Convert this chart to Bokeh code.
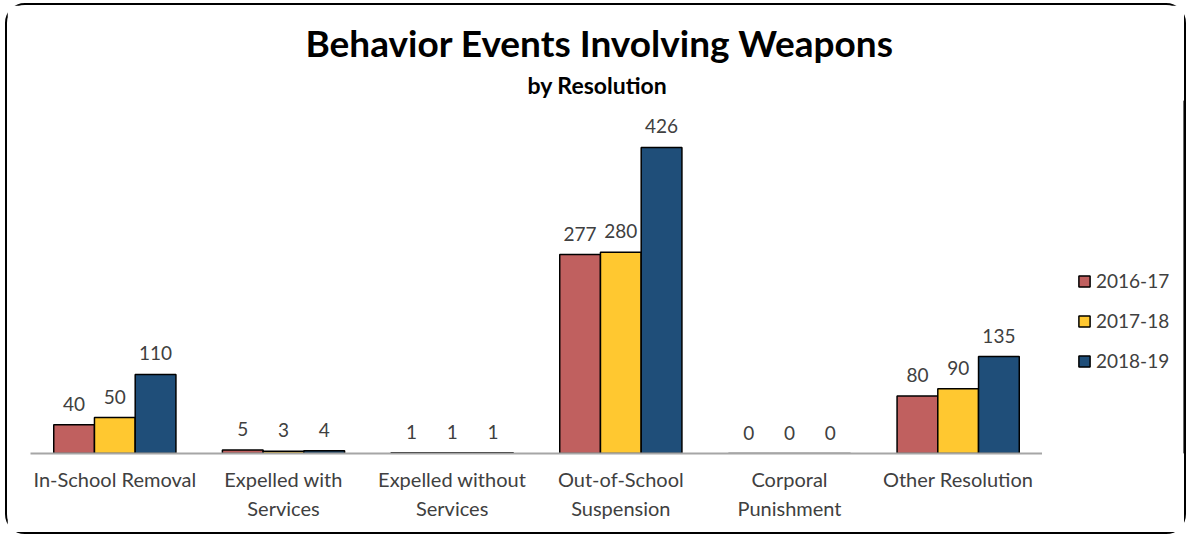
from bokeh.plotting import figure
from bokeh.layouts import row
from bokeh.models import (FactorRange, Legend, LegendItem, Title, ColumnDataSource, Range1d,
                          CategoricalAxis, CustomJSTickFormatter)
from bokeh.transform import dodge
from bokeh.embed import file_html
from bokeh.resources import INLINE
from bokeh.core.properties import value

categories = ["In-School Removal", "Expelled with Services", "Expelled without Services",
              "Out-of-School Suspension", "Corporal Punishment", "Other Resolution"]
label_line1 = ["In-School Removal", "Expelled with", "Expelled without",
               "Out-of-School", "Corporal", "Other Resolution"]
label_line2 = ["", "Services", "Services", "Suspension", "Punishment", ""]
years = ["2016-17", "2017-18", "2018-19"]
v2016 = [40, 5, 1, 277, 0, 80]
v2017 = [50, 3, 1, 280, 0, 90]
v2018 = [110, 4, 1, 426, 0, 135]
colors = ["#C0605F", "#FFC830", "#1F4E79"]

FONT = "Lato"
TXT = "#404040"
series = [v2016, v2017, v2018]
data = {"cat": categories}
for i, s in enumerate(series):
    data[f"v{i}"] = s
    data[f"t{i}"] = [str(v) for v in s]
src = ColumnDataSource(data)

# main chart
p = figure(x_range=FactorRange(*categories), y_range=Range1d(0, 491.4),
           width=1035, height=527, output_backend="svg", toolbar_location=None,
           min_border_left=23, min_border_right=0, min_border_top=95, min_border_bottom=79)
p.outline_line_color = None
p.xgrid.grid_line_color = None
p.ygrid.grid_line_color = None
p.yaxis.visible = False

bw = 0.2415
offs = [-bw, 0.0, bw]
for i in range(3):
    p.vbar(x=dodge("cat", offs[i], range=p.x_range), top=f"v{i}", width=bw, source=src,
           fill_color=colors[i], line_color="black", line_width=1.5)
    p.text(x=dodge("cat", offs[i], range=p.x_range), y=f"v{i}", text=f"t{i}", source=src,
           text_align="center", text_baseline="bottom", y_offset=-14,
           text_font=value(FONT), text_font_size="19px", text_color=TXT)


def style_axis(ax, lines, standoff, show_line):
    ax.axis_line_color = "#A6A6A6" if show_line else None
    ax.axis_line_width = 2
    ax.major_tick_line_color = None
    ax.minor_tick_line_color = None
    ax.major_tick_out = 0
    ax.major_tick_in = 0
    ax.major_label_standoff = standoff
    ax.major_label_text_font = FONT
    ax.major_label_text_font_size = "20px"
    ax.major_label_text_color = TXT
    ax.formatter = CustomJSTickFormatter(
        args=dict(cats=categories, labs=lines),
        code="const i = cats.indexOf(tick); return i >= 0 ? labs[i] : tick;")


style_axis(p.xaxis[0], label_line1, 13, True)
xa2 = CategoricalAxis()
style_axis(xa2, label_line2, 2, False)
p.add_layout(xa2, "below")

sub = Title(text="by Resolution", align="left", offset=497, standoff=4, text_font=FONT,
            text_font_size="23px", text_font_style="bold", text_color="black")
p.add_layout(sub, "above")
main = Title(text="Behavior Events Involving Weapons", align="left", offset=275, standoff=4,
             text_font=FONT, text_font_size="37px", text_font_style="bold", text_color="black")
p.add_layout(main, "above")

# legend panel (dummy, off-range renderers only supply the legend swatches)
pl = figure(width=142, height=527, x_range=Range1d(0, 1), y_range=Range1d(0, 1),
            x_axis_type=None, y_axis_type=None, output_backend="svg", toolbar_location=None,
            min_border=0)
pl.outline_line_color = None
items = []
for i in range(3):
    r = pl.vbar(x=[5], top=[1], width=0.1, fill_color=colors[i], line_color="black",
                line_width=1.5)
    items.append(LegendItem(label=years[i], renderers=[r]))
legend = Legend(items=items, location=(35, 81), orientation="vertical",
                border_line_color=None, background_fill_alpha=0, padding=0, margin=0,
                glyph_width=14, glyph_height=14, label_standoff=5, spacing=17, label_height=23,
                label_text_font=FONT, label_text_font_size="19px", label_text_color=TXT)
pl.add_layout(legend)

layout = row(p, pl, styles={"margin-left": "5px", "margin-top": "3px",
                            "border": "2px solid black", "border-radius": "20px",
                            "box-sizing": "content-box"})

open("out.html", "w").write(file_html(layout, INLINE))
